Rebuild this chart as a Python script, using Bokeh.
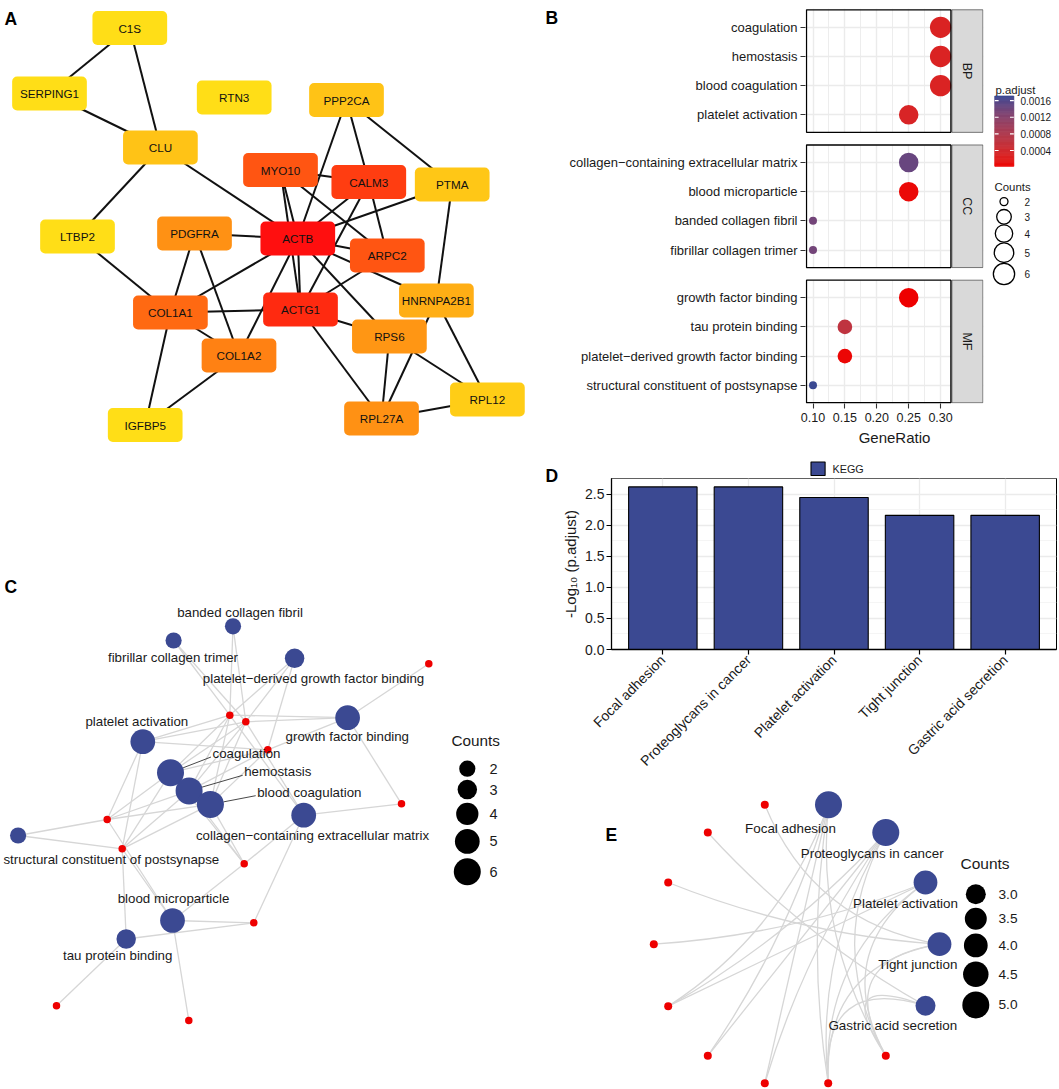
import math
from bokeh.plotting import figure
from bokeh.layouts import row, column
from bokeh.models import (Range1d, FixedTicker, PrintfTickFormatter,
                          LinearColorMapper, ColumnDataSource)
from bokeh.core.properties import value
from bokeh.embed import file_html
from bokeh.resources import INLINE

FONT = "Liberation Sans"
TXT = "#1A1A1A"
BLUE = "#3B4992"
RED = "#EE0000"
EDGE_GREY = "#D6D6D6"

# ======================= DATA =======================
# ---- A: PPI network (node layout coordinates, hub score) ----
ppi_genes = ["C1S", "SERPING1", "RTN3", "PPP2CA", "CLU", "MYO10", "CALM3", "PTMA", "LTBP2",
             "PDGFRA", "ACTB", "ARPC2", "HNRNPA2B1", "COL1A1", "ACTG1", "RPS6", "COL1A2",
             "RPL12", "RPL27A", "IGFBP5"]
ppi_score = [0.0, 0.0, 0.0, 0.13, 0.13, 0.66, 0.78, 0.11, 0.0,
             0.37, 1.0, 0.66, 0.23, 0.565, 0.87, 0.35, 0.45,
             0.08, 0.37, 0.0]
ppi_layout_x = [129.3, 49.0, 233.7, 346.0, 159.9, 280.0, 368.3, 451.7, 77.0,
                194.0, 297.3, 386.8, 435.9, 169.9, 300.0, 388.9, 238.5,
                486.9, 381.0, 144.7]
ppi_layout_y = [27.5, 93.0, 97.0, 99.5, 147.0, 169.5, 181.5, 184.0, 236.0,
                233.0, 238.0, 255.0, 300.0, 312.0, 309.0, 336.0, 355.0,
                399.0, 418.0, 424.5]
ppi_edges = [("C1S", "SERPING1"), ("C1S", "CLU"), ("SERPING1", "CLU"), ("CLU", "LTBP2"),
             ("CLU", "ACTB"), ("LTBP2", "COL1A1"), ("PPP2CA", "ACTB"), ("PPP2CA", "CALM3"),
             ("PPP2CA", "PTMA"), ("MYO10", "CALM3"), ("MYO10", "ACTB"), ("MYO10", "ACTG1"),
             ("MYO10", "ARPC2"), ("CALM3", "ACTB"), ("CALM3", "ARPC2"), ("CALM3", "ACTG1"),
             ("PTMA", "ACTB"), ("PTMA", "HNRNPA2B1"), ("PDGFRA", "ACTB"), ("PDGFRA", "COL1A1"),
             ("PDGFRA", "COL1A2"), ("ACTB", "ARPC2"), ("ACTB", "HNRNPA2B1"), ("ACTB", "COL1A1"),
             ("ACTB", "ACTG1"), ("ACTB", "COL1A2"), ("ACTB", "RPS6"), ("ARPC2", "ACTG1"),
             ("ACTG1", "COL1A1"), ("ACTG1", "RPS6"), ("ACTG1", "RPL27A"), ("COL1A1", "COL1A2"),
             ("COL1A1", "IGFBP5"), ("COL1A2", "IGFBP5"), ("RPS6", "RPL27A"),
             ("HNRNPA2B1", "RPL27A"), ("RPS6", "RPL12"), ("HNRNPA2B1", "RPL12"),
             ("RPL27A", "RPL12")]

# ---- B: GO dot plot ----
go_bp_terms = ["coagulation", "hemostasis", "blood coagulation", "platelet activation"]
go_bp_ratio = [0.30, 0.30, 0.30, 0.25]
go_bp_count = [6, 6, 6, 5]
go_bp_padj = [0.00028, 0.00028, 0.00028, 0.00031]
go_cc_terms = ["collagen\u2212containing extracellular matrix", "blood microparticle",
               "banded collagen fibril", "fibrillar collagen trimer"]
go_cc_ratio = [0.25, 0.25, 0.10, 0.10]
go_cc_count = [5, 5, 2, 2]
go_cc_padj = [0.00146, 0.00006, 0.00138, 0.00138]
go_mf_terms = ["growth factor binding", "tau protein binding",
               "platelet\u2212derived growth factor binding", "structural constituent of postsynapse"]
go_mf_ratio = [0.25, 0.15, 0.15, 0.10]
go_mf_count = [5, 3, 3, 2]
go_mf_padj = [0.00002, 0.00062, 0.00005, 0.00171]
padj_ticks = [0.0004, 0.0008, 0.0012, 0.0016]
b_count_legend = [2, 3, 4, 5, 6]

# ---- C: GO term-gene network ----
go_net_terms = ["banded collagen fibril", "fibrillar collagen trimer",
                "platelet\u2212derived growth factor binding", "growth factor binding",
                "platelet activation", "coagulation", "hemostasis", "blood coagulation",
                "collagen\u2212containing extracellular matrix",
                "structural constituent of postsynapse", "blood microparticle", "tau protein binding"]
go_net_count = [2, 2, 3, 5, 5, 6, 6, 6, 5, 2, 5, 3]
go_net_x = [232.5, 173.1, 294.1, 347.1, 142.3, 170.0, 188.6, 209.9, 303.2, 17.6, 172.0, 125.7]
go_net_y = [625.8, 640.0, 657.8, 717.2, 741.2, 772.2, 790.4, 803.9, 814.7, 835.0, 920.0, 938.5]
go_gene_x = [428.3, 229.3, 245.3, 267.3, 106.7, 121.7, 401.0, 243.7, 253.3, 56.0, 188.3]
go_gene_y = [663.3, 714.7, 721.3, 749.3, 819.0, 848.3, 803.3, 863.3, 922.3, 1005.3, 1020.0]
go_net_links = [(0, 1), (0, 2), (1, 1), (1, 2), (2, 1), (2, 2), (2, 3),
                (3, 0), (3, 1), (3, 2), (3, 3), (3, 6),
                (4, 1), (4, 2), (4, 3), (4, 4), (4, 5),
                (5, 1), (5, 2), (5, 3), (5, 4), (5, 5), (5, 7),
                (6, 1), (6, 2), (6, 3), (6, 4), (6, 5), (6, 7),
                (7, 1), (7, 2), (7, 3), (7, 4), (7, 5), (7, 7),
                (8, 1), (8, 2), (8, 6), (8, 7), (8, 8),
                (9, 4), (9, 5),
                (10, 4), (10, 5), (10, 7), (10, 8), (10, 10),
                (11, 5), (11, 8), (11, 9)]
go_label_x = [239.5, 172.5, 313.0, 346.8, 136.3, 212.0, 243.7, 256.7, 312.0, 110.8, 173.0, 117.2]
go_label_y = [612.0, 657.0, 677.5, 735.8, 720.5, 753.0, 771.3, 791.7, 835.0, 858.7, 898.3, 955.0]
go_label_align = ["center", "center", "center", "center", "center", "left", "left", "left",
                  "center", "center", "center", "center"]
c_count_legend = [2, 3, 4, 5, 6]

# ---- D: KEGG bar chart ----
kegg_terms = ["Focal adhesion", "Proteoglycans in cancer", "Platelet activation",
              "Tight junction", "Gastric acid secretion"]
kegg_neglog10 = [2.617, 2.617, 2.447, 2.159, 2.159]
kegg_count = [5, 5, 4, 4, 3]

# ---- E: KEGG circular network ----
kegg_net_x = [828.0, 885.3, 925.0, 939.0, 925.0]
kegg_net_y = [804.3, 832.0, 882.0, 943.7, 1005.3]
kegg_gene_x = [885.3, 827.7, 764.3, 707.3, 667.7, 653.3, 667.7, 707.3, 764.3]
kegg_gene_y = [1055.3, 1082.7, 1082.7, 1055.3, 1005.7, 943.7, 882.0, 832.0, 804.3]
kegg_links = [(0, 0), (0, 1), (0, 2), (0, 3), (0, 4),
              (1, 0), (1, 1), (1, 2), (1, 3), (1, 4),
              (2, 0), (2, 1), (2, 4), (2, 5),
              (3, 0), (3, 1), (3, 6), (3, 8),
              (4, 0), (4, 1), (4, 7)]
kegg_label_x = [790.0, 871.7, 905.0, 917.3, 892.3]
kegg_label_y = [827.7, 852.7, 903.3, 964.3, 1025.0]
e_count_legend = [3.0, 3.5, 4.0, 4.5, 5.0]


# ======================= HELPERS =======================
def hex2rgb(h):
    return tuple(int(h[i:i + 2], 16) for i in (1, 3, 5))


def lerp_hex(c0, c1, t):
    a, b = hex2rgb(c0), hex2rgb(c1)
    return "#%02x%02x%02x" % tuple(int(round(a[i] + (b[i] - a[i]) * t)) for i in range(3))


def _lin(c):
    return c / 12.92 if c <= 0.04045 else ((c + 0.055) / 1.055) ** 2.4


def _gam(c):
    c = min(1.0, max(0.0, c))
    return 12.92 * c if c <= 0.0031308 else 1.055 * c ** (1 / 2.4) - 0.055


def to_lab(h):
    r, g, b = [_lin(v / 255) for v in hex2rgb(h)]
    X = (0.4124 * r + 0.3576 * g + 0.1805 * b) / 0.95047
    Y = 0.2126 * r + 0.7152 * g + 0.0722 * b
    Z = (0.0193 * r + 0.1192 * g + 0.9505 * b) / 1.08883
    f = lambda t: t ** (1 / 3) if t > 0.008856 else 7.787 * t + 16 / 116
    fx, fy, fz = f(X), f(Y), f(Z)
    return (116 * fy - 16, 500 * (fx - fy), 200 * (fy - fz))


def from_lab(L, a, b):
    fy = (L + 16) / 116
    fx, fz = fy + a / 500, fy - b / 200
    inv = lambda t: t ** 3 if t ** 3 > 0.008856 else (t - 16 / 116) / 7.787
    X, Y, Z = inv(fx) * 0.95047, inv(fy), inv(fz) * 1.08883
    r = 3.2406 * X - 1.5372 * Y - 0.4986 * Z
    g = -0.9689 * X + 1.8758 * Y + 0.0415 * Z
    bb = 0.0557 * X - 0.2040 * Y + 1.0570 * Z
    return "#%02x%02x%02x" % tuple(int(round(_gam(v) * 255)) for v in (r, g, bb))


def lab_palette(c0, c1, n=256):
    l0, l1 = to_lab(c0), to_lab(c1)
    return [from_lab(*[l0[k] + (l1[k] - l0[k]) * i / (n - 1) for k in range(3)]) for i in range(n)]


def net_fig(w, h, xr, yr):
    p = figure(width=w, height=h, x_range=Range1d(*xr), y_range=Range1d(*yr),
               output_backend="svg", toolbar_location=None,
               x_axis_location=None, y_axis_location=None, min_border=0)
    p.grid.visible = False
    p.outline_line_color = None
    p.background_fill_color = "white"
    p.border_fill_color = "white"
    return p


def txt(p, x, y, t, size, align="center", baseline="middle", bold=False, color=TXT, angle=0.0):
    p.text(x=x, y=y, text=t, text_font=value(FONT), text_font_size=size,
           text_align=align, text_baseline=baseline, text_color=color, angle=angle,
           text_font_style="bold" if bold else "normal")


def legend_centers(first, diams, k, min_h=17.3):
    hs = [max(min_h, k * d) for d in diams]
    cs = [first]
    for i in range(1, len(hs)):
        cs.append(cs[-1] + (hs[i - 1] + hs[i]) / 2)
    return cs


LETTER = "17.5px"

# ======================= PANEL A =======================
pA = net_fig(535, 475, (0, 535), (475, 0))
gi = {g: i for i, g in enumerate(ppi_genes)}
pA.segment(x0=[ppi_layout_x[gi[a]] for a, b in ppi_edges], y0=[ppi_layout_y[gi[a]] for a, b in ppi_edges],
           x1=[ppi_layout_x[gi[b]] for a, b in ppi_edges], y1=[ppi_layout_y[gi[b]] for a, b in ppi_edges],
           line_color="#111111", line_width=2)
BOX_W, BOX_H = 74.7, 34.0
pA.quad(left=[x - BOX_W / 2 for x in ppi_layout_x], right=[x + BOX_W / 2 for x in ppi_layout_x],
        top=[y - BOX_H / 2 for y in ppi_layout_y], bottom=[y + BOX_H / 2 for y in ppi_layout_y],
        fill_color=[lerp_hex("#FFDE17", "#FF0F0F", s) for s in ppi_score], line_color=None,
        border_radius=5)
txt(pA, ppi_layout_x, ppi_layout_y, ppi_genes, "11.7px", color="#111111")
txt(pA, [4], [18.5], ["A"], LETTER, align="left", baseline="alphabetic", bold=True, color="black")

# ======================= PANEL B =======================
ROW_PX = 29.33
X_PX = 638.0
FACET_SPAN = 4.2
FACET_GAP = 12.7 / ROW_PX
facet_names = ["BP", "CC", "MF"]
facet_terms = [go_bp_terms, go_cc_terms, go_mf_terms]
facet_ratio = [go_bp_ratio, go_cc_ratio, go_mf_ratio]
facet_count = [go_bp_count, go_cc_count, go_mf_count]
facet_padj = [go_bp_padj, go_cc_padj, go_mf_padj]

b_x, b_y, b_cnt, b_p, b_lab = [], [], [], [], []
for f in range(3):
    base = f * (FACET_SPAN + FACET_GAP)
    for i, t in enumerate(facet_terms[f]):
        b_y.append(round(base + 0.6 + i, 4))
        b_x.append(facet_ratio[f][i])
        b_cnt.append(facet_count[f][i])
        b_p.append(facet_padj[f][i])
        b_lab.append(t)


def b_size(c):
    lo, hi = min(b_count_legend), max(b_count_legend)
    return 8.0 + 13.3 * math.sqrt((c - lo) / (hi - lo))


tick_ref = 812.5  # page x of GeneRatio 0.10
frame_l, frame_r = 805.0, 983.0
panel_l, panel_r = 806.0, 950.4
strip_l, strip_r = 951.4, 982.4
gx = lambda px: 0.10 + (px - tick_ref) / X_PX
total_span = 3 * FACET_SPAN + 2 * FACET_GAP
y_top = -(9.3 - 8.0) / ROW_PX
y_bot = (405.0 - 9.3) / ROW_PX

pB = figure(width=432, height=448, x_range=Range1d(gx(frame_l), gx(frame_r)),
            y_range=Range1d(y_bot, y_top), output_backend="svg", toolbar_location=None,
            min_border_left=247, min_border_right=7, min_border_top=8, min_border_bottom=43)
pB.outline_line_color = None
xt = FixedTicker(ticks=[0.10, 0.15, 0.20, 0.25, 0.30], minor_ticks=[0.125, 0.175, 0.225, 0.275])
pB.xaxis.ticker = xt
pB.xgrid.ticker = xt
pB.xgrid.grid_line_color = "#EBEBEB"
pB.xgrid.grid_line_width = 1.4
pB.xgrid.minor_grid_line_color = "#EBEBEB"
pB.xgrid.minor_grid_line_width = 0.9
yt = FixedTicker(ticks=b_y)
pB.yaxis.ticker = yt
pB.ygrid.ticker = yt
pB.ygrid.grid_line_color = "#EBEBEB"
pB.ygrid.grid_line_width = 1.4
pB.yaxis.major_label_overrides = {y: l for y, l in zip(b_y, b_lab)}
pB.xaxis.formatter = PrintfTickFormatter(format="%.2f")
for ax in (pB.xaxis[0], pB.yaxis[0]):
    ax.axis_line_color = None
    ax.major_tick_in = 0
    ax.major_tick_out = 5
    ax.major_tick_line_color = "#333333"
    ax.major_tick_line_width = 1.1
    ax.minor_tick_line_color = None
    ax.major_label_text_font = FONT
    ax.major_label_text_color = TXT
pB.yaxis.major_label_text_font_size = "13px"
pB.yaxis.major_label_standoff = 3
pB.xaxis.major_label_text_font_size = "12.5px"
pB.xaxis.major_label_standoff = 4
pB.xaxis.axis_label = "GeneRatio"
pB.xaxis.axis_label_text_font = FONT
pB.xaxis.axis_label_text_font_size = "15px"
pB.xaxis.axis_label_text_font_style = "normal"
pB.xaxis.axis_label_text_color = TXT
pB.xaxis.axis_label_standoff = 4

xl, xr = gx(frame_l), gx(frame_r)
# white covers outside the facet panels (hide grid lines there)
cov_l, cov_r, cov_t, cov_b = [], [], [], []
cov_l.append(xl); cov_r.append(xr); cov_t.append(y_top); cov_b.append(0.0)
cov_l.append(xl); cov_r.append(xr); cov_t.append(total_span); cov_b.append(y_bot)
for f in range(2):
    s = f * (FACET_SPAN + FACET_GAP) + FACET_SPAN
    cov_l.append(xl); cov_r.append(xr); cov_t.append(s); cov_b.append(s + FACET_GAP)
cov_l.append(gx(panel_r)); cov_r.append(xr); cov_t.append(y_top); cov_b.append(y_bot)
cov_l.append(xl); cov_r.append(gx(panel_l)); cov_t.append(y_top); cov_b.append(y_bot)
pB.quad(left=cov_l, right=cov_r, top=cov_t, bottom=cov_b, fill_color="white", line_color=None)

f_top = [f * (FACET_SPAN + FACET_GAP) for f in range(3)]
f_bot = [t + FACET_SPAN for t in f_top]
pB.quad(left=[gx(strip_l)] * 3, right=[gx(strip_r)] * 3, top=f_top, bottom=f_bot,
        fill_color="#D9D9D9", line_color="#555555", line_width=0.8)
txt(pB, [(gx(strip_l) + gx(strip_r)) / 2] * 3, [(a + b) / 2 for a, b in zip(f_top, f_bot)],
    facet_names, "12.5px", angle=-math.pi / 2)

pal = lab_palette(RED, BLUE)
all_p = go_bp_padj + go_cc_padj + go_mf_padj
p_lo, p_hi = min(all_p), max(all_p)
mapper = LinearColorMapper(palette=pal, low=p_lo, high=p_hi)
srcB = ColumnDataSource(dict(x=b_x, y=b_y, p=b_p, s=[b_size(c) for c in b_cnt]))
pB.scatter(x="x", y="y", size="s", fill_color={"field": "p", "transform": mapper},
           line_color=None, source=srcB)
pB.quad(left=[gx(panel_l)] * 3, right=[gx(panel_r)] * 3, top=f_top, bottom=f_bot,
        fill_color=None, line_color="black", line_width=1.3)

# ---- B legends (narrow figure, page-pixel coordinates) ----
pBL = net_fig(69, 448, (990, 1059), (448, 0))
BAR_L, BAR_R, BAR_TOP, BAR_BOT = 994.3, 1013.3, 99.3, 179.0
bar_y = lambda v: BAR_BOT - (v - p_lo) / (p_hi - p_lo) * (BAR_BOT - BAR_TOP)
NSTEP = 60
steps = [p_lo + (p_hi - p_lo) * i / NSTEP for i in range(NSTEP + 1)]
srcBar = ColumnDataSource(dict(
    l=[BAR_L] * NSTEP, r=[BAR_R] * NSTEP,
    b=[bar_y(steps[i]) for i in range(NSTEP)], t=[bar_y(steps[i + 1]) for i in range(NSTEP)],
    v=[(steps[i] + steps[i + 1]) / 2 for i in range(NSTEP)]))
pBL.quad(left="l", right="r", top="t", bottom="b", source=srcBar,
         fill_color={"field": "v", "transform": mapper},
         line_color={"field": "v", "transform": mapper}, line_width=0.8)
TK = 3.8
pBL.segment(x0=[BAR_L] * len(padj_ticks) + [BAR_R - TK] * len(padj_ticks),
            x1=[BAR_L + TK] * len(padj_ticks) + [BAR_R] * len(padj_ticks),
            y0=[bar_y(t) for t in padj_ticks] * 2, y1=[bar_y(t) for t in padj_ticks] * 2,
            line_color="white", line_width=1.1)
txt(pBL, [1020.0] * len(padj_ticks), [bar_y(t) for t in padj_ticks],
    ["%.4f" % t for t in padj_ticks], "10px", align="left")
txt(pBL, [995.0], [92.0], ["p.adjust"], "11.4px", align="left")
bd = [b_size(c) for c in b_count_legend]
bc = legend_centers(219.0, bd, 1.18)
txt(pBL, [994.0], [202.5], ["Counts"], "11.4px", align="left")
pBL.scatter(x=[1003.5] * len(bd), y=bc, size=bd, fill_color=None, line_color="black", line_width=1.3)
txt(pBL, [1024.0] * len(bd), bc, [str(c) for c in b_count_legend], "10px", align="left")

# ======================= PANEL C =======================
pC = net_fig(535, 614, (0, 535), (1089, 475))
c_size = lambda c: math.sqrt(28.5 + 116.75 * c)
pC.segment(x0=[go_net_x[t] for t, g in go_net_links], y0=[go_net_y[t] for t, g in go_net_links],
           x1=[go_gene_x[g] for t, g in go_net_links], y1=[go_gene_y[g] for t, g in go_net_links],
           line_color=EDGE_GREY, line_width=1.3)
lx0, ly0, lx1, ly1 = [], [], [], []
for i, al in enumerate(go_label_align):
    if al == "left":
        ex, ey = go_label_x[i] - 1.5, go_label_y[i] + 3.5
        dx, dy = ex - go_net_x[i], ey - go_net_y[i]
        dl = math.hypot(dx, dy)
        r = c_size(go_net_count[i]) / 2
        lx0.append(go_net_x[i] + dx / dl * r); ly0.append(go_net_y[i] + dy / dl * r)
        lx1.append(ex); ly1.append(ey)
pC.segment(x0=lx0, y0=ly0, x1=lx1, y1=ly1, line_color="#333333", line_width=0.9)
pC.scatter(x=go_gene_x, y=go_gene_y, size=7.5, fill_color=RED, line_color=None)
pC.scatter(x=go_net_x, y=go_net_y, size=[c_size(c) for c in go_net_count], fill_color=BLUE, line_color=None)
for al in ("center", "left"):
    ii = [i for i, a in enumerate(go_label_align) if a == al]
    txt(pC, [go_label_x[i] for i in ii], [go_label_y[i] for i in ii], [go_net_terms[i] for i in ii],
        "13.3px", align=al)
cd = [c_size(c) for c in c_count_legend]
cc = legend_centers(768.2, cd, 1.17)
txt(pC, [451.0], [739.6], ["Counts"], "15.3px", align="left")
pC.scatter(x=[466.8] * len(cd), y=cc, size=cd, fill_color="black", line_color=None)
txt(pC, [489.0] * len(cd), cc, [str(c) for c in c_count_legend], "14.5px", align="left")
txt(pC, [4], [586.7], ["C"], LETTER, align="left", baseline="alphabetic", bold=True, color="black")

# ======================= LETTER STRIP (B, D) =======================
pL = net_fig(23, 1089, (535, 558), (1089, 0))
txt(pL, [545.0, 545.0], [17.5, 475.0], ["B", "D"], LETTER, align="left", baseline="alphabetic",
    bold=True, color="black")

# ======================= PANEL D =======================
# legend strip above the bar chart (KEGG key)
pDL = net_fig(501, 30, (558, 1059), (478, 448))
pDL.quad(left=[810.5], right=[824.6], top=[461.5], bottom=[475.0], fill_color=BLUE,
         line_color="black", line_width=1.1)
txt(pDL, [832.0], [468.5], ["KEGG"], "10.8px", align="left")

kpos = list(range(1, len(kegg_terms) + 1))
pD = figure(width=501, height=299, x_range=Range1d(0.4, len(kegg_terms) + 0.6),
            y_range=Range1d(0, max(kegg_neglog10) * 1.0515), output_backend="svg",
            toolbar_location=None, min_border_left=53, min_border_right=3,
            min_border_top=0, min_border_bottom=127)
pD.outline_line_color = "black"
pD.outline_line_width = 1
pD.vbar(x=kpos, top=kegg_neglog10, width=0.8, fill_color=BLUE, line_color="black", line_width=1.1)
pD.xaxis.ticker = FixedTicker(ticks=kpos)
pD.xgrid.ticker = FixedTicker(ticks=kpos)
pD.xaxis.major_label_overrides = {k: t for k, t in zip(kpos, kegg_terms)}
pD.xaxis.major_label_orientation = math.pi / 4
ytd = FixedTicker(ticks=[0.0, 0.5, 1.0, 1.5, 2.0, 2.5], minor_ticks=[0.25, 0.75, 1.25, 1.75, 2.25, 2.75])
pD.yaxis.ticker = ytd
pD.ygrid.ticker = ytd
pD.yaxis.formatter = PrintfTickFormatter(format="%.1f")
pD.grid.grid_line_color = "#EBEBEB"
pD.grid.grid_line_width = 1.3
pD.ygrid.minor_grid_line_color = "#F2F2F2"
pD.ygrid.minor_grid_line_width = 0.8
for ax in (pD.xaxis[0], pD.yaxis[0]):
    ax.axis_line_color = "black"
    ax.axis_line_width = 1.3
    ax.major_tick_in = 0
    ax.major_tick_out = 5
    ax.major_tick_line_color = "black"
    ax.major_tick_line_width = 1.2
    ax.minor_tick_line_color = None
    ax.major_label_text_font = FONT
    ax.major_label_text_font_size = "14px"
    ax.major_label_text_color = TXT
    ax.major_label_standoff = 3
pD.yaxis.major_label_standoff = 2
pD.yaxis.axis_label = "-Log\u2081\u2080 (p.adjust)"
pD.yaxis.axis_label_text_font = FONT
pD.yaxis.axis_label_text_font_size = "15px"
pD.yaxis.axis_label_text_font_style = "normal"
pD.yaxis.axis_label_text_color = TXT
pD.yaxis.axis_label_standoff = 3

# ======================= PANEL E =======================
pE = net_fig(501, 312, (558, 1059), (1089, 777))
e_size = lambda c: math.sqrt(164.5 * c - 93.5)
all_x = kegg_net_x + kegg_gene_x
all_y = kegg_net_y + kegg_gene_y
cxm, cym = sum(all_x) / len(all_x), sum(all_y) / len(all_y)
BEND = 0.7
qx0, qy0, qx1, qy1, qcx, qcy = [], [], [], [], [], []
for t, g in kegg_links:
    x0, y0, x1, y1 = kegg_net_x[t], kegg_net_y[t], kegg_gene_x[g], kegg_gene_y[g]
    mx, my = (x0 + x1) / 2, (y0 + y1) / 2
    qx0.append(x0); qy0.append(y0); qx1.append(x1); qy1.append(y1)
    qcx.append(mx + BEND * (cxm - mx)); qcy.append(my + BEND * (cym - my))
pE.quadratic(x0=qx0, y0=qy0, x1=qx1, y1=qy1, cx=qcx, cy=qcy, line_color=EDGE_GREY, line_width=1.3)
pE.scatter(x=kegg_gene_x, y=kegg_gene_y, size=8, fill_color=RED, line_color=None)
pE.scatter(x=kegg_net_x, y=kegg_net_y, size=[e_size(c) for c in kegg_count], fill_color=BLUE, line_color=None)
txt(pE, kegg_label_x, kegg_label_y, kegg_terms, "13.4px")
ed = [e_size(c) for c in e_count_legend]
ec = legend_centers(893.7, ed, 1.17)
txt(pE, [960.0], [862.5], ["Counts"], "15.5px", align="left")
pE.scatter(x=[975.3] * len(ed), y=ec, size=ed, fill_color="black", line_color=None)
txt(pE, [998.0] * len(ed), ec, ["%.1f" % c for c in e_count_legend], "13.7px", align="left")
txt(pE, [605.0], [834.0], ["E"], LETTER, align="left", baseline="alphabetic", bold=True, color="black")

# ======================= LAYOUT =======================
# each figure of the right column wrapped in its own row so frames are not inner-aligned
layout = row(column(pA, pC), pL, column(row(pB, pBL), row(pDL), row(pD), row(pE)))
open("out.html", "w").write(file_html(layout, INLINE, title="Enrichment figure"))
